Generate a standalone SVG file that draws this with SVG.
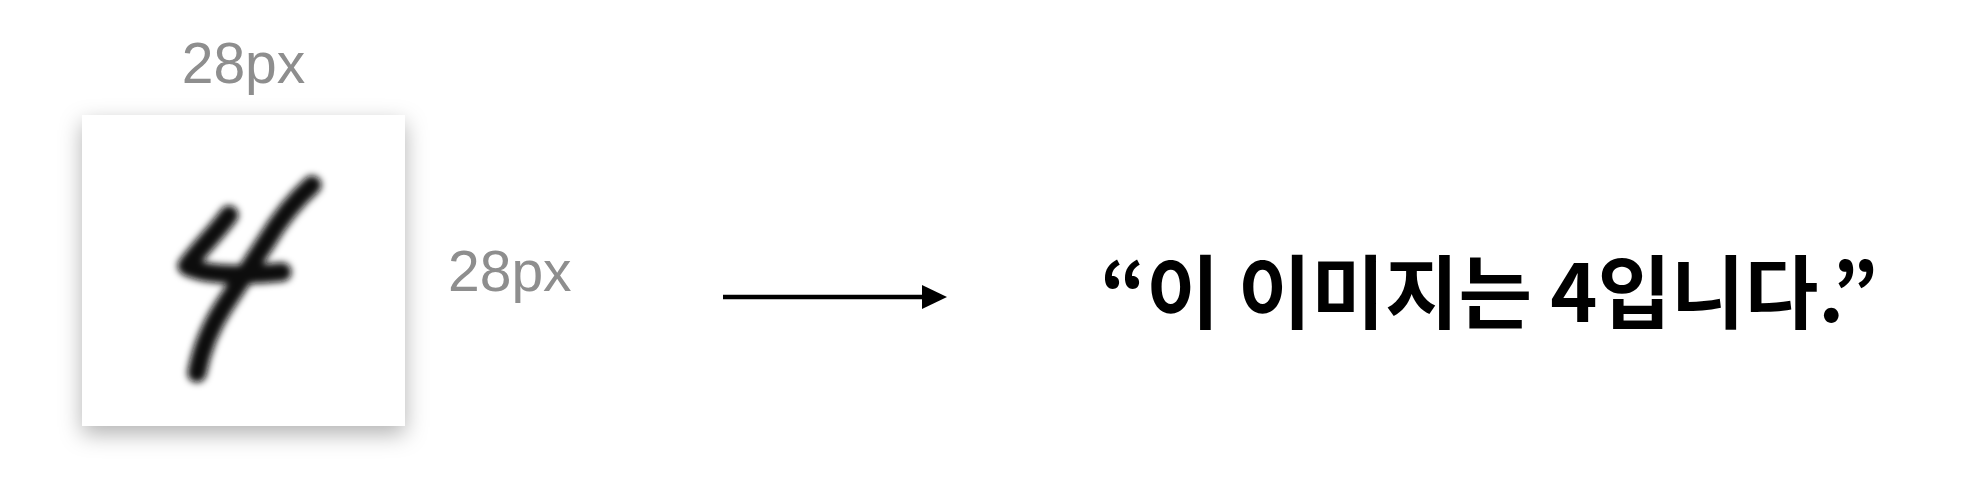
<svg xmlns="http://www.w3.org/2000/svg" width="1964" height="496" viewBox="0 0 1964 496">
  <defs>
    <filter id="shadow" x="-20%" y="-20%" width="140%" height="150%">
      <feDropShadow dx="0" dy="8" stdDeviation="11" flood-color="#000" flood-opacity="0.3"/>
    </filter>
    <filter id="blur" x="-30%" y="-30%" width="160%" height="160%">
      <feGaussianBlur stdDeviation="3.5"/>
    </filter>
    <marker id="arrow" markerUnits="userSpaceOnUse" markerWidth="26" markerHeight="26" refX="0" refY="12" orient="auto">
      <polygon points="0,0 25,12 0,24" fill="#000"/>
    </marker>
  </defs>
  <style>
    .dim { font-family: "Liberation Sans", Arial, sans-serif; font-size: 57px; fill: #8e8e8e; }
    .caption { font-family: "Noto Sans CJK KR", "Noto Sans", sans-serif; font-size: 80px; font-weight: 700; fill: #000; }
    .stroke4 { fill: none; stroke: #0a0a0a; stroke-width: 19; stroke-linecap: round; stroke-linejoin: round; }
  </style>
  <rect width="1964" height="496" fill="#fff"/>

  <g id="image-node">
    <rect x="82" y="115" width="323" height="311" fill="#fff" filter="url(#shadow)"/>
    <g filter="url(#blur)">
      <path class="stroke4" d="M312,185 C295,200 278,222 266,242 C253,262 238,285 224,306 C211,326 202,346 197,373"/>
      <path class="stroke4" d="M229,215 C216,233 198,250 187,266 C205,276 248,276 282,272"/>
    </g>
  </g>

  <g id="label-width">
    <text class="dim" x="243.5" y="83" text-anchor="middle">28px</text>
  </g>
  <g id="label-height">
    <text class="dim" x="448" y="291">28px</text>
  </g>

  <g id="connectors">
    <line x1="723" y1="297" x2="922" y2="297" stroke="#000" stroke-width="4.5" marker-end="url(#arrow)"/>
  </g>

  <g id="caption-node">
    <text class="caption" x="1100" y="322">“이 이미지는 4입니다.”</text>
  </g>
</svg>
